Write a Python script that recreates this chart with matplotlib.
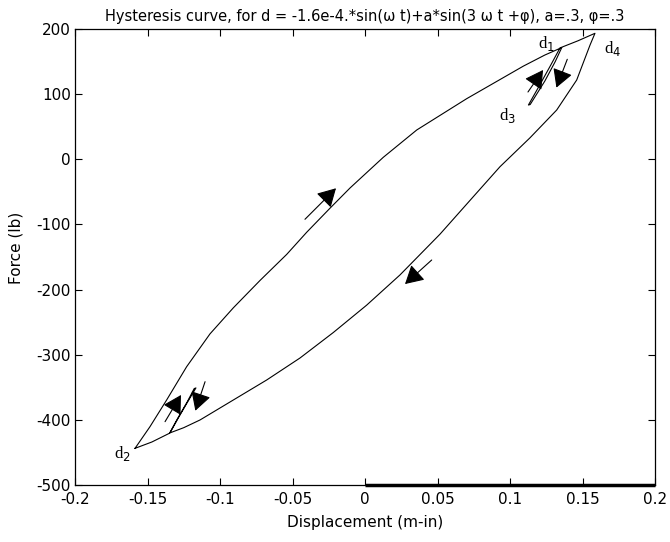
import numpy as np
import matplotlib
matplotlib.use('Agg')
import matplotlib.pyplot as plt

plt.rcParams['font.family'] = ['DejaVu Sans']
plt.rcParams['axes.unicode_minus'] = False

# loop traced clockwise: up the upper branch (with the small loop at d1/d3),
# over the tip d4, down the lower branch (small loop near d2), back to d2
upper_x = [-0.1586, -0.1483, -0.1368, -0.1230, -0.1069, -0.0908, -0.0724, -0.0540,
           -0.0402, -0.0241, -0.0103, 0.0126, 0.0357, 0.0701, 0.1092, 0.1240, 0.1357]
upper_y = [-443.7, -410.5, -369.5, -318.4, -268.0, -228.0, -186.0, -146.0,
           -112.0, -75.0, -44.0, 3.0, 45.0, 93.0, 143.0, 160.0, 171.5]

top_loop_x = [0.1312, 0.1240, 0.1139, 0.1127, 0.1200, 0.1282, 0.1345]
top_loop_y = [150.0, 120.0, 84.0, 83.3, 112.0, 145.0, 171.0]

tip_x = [0.1470, 0.1586]
tip_y = [182.0, 193.4]

lower_x = [0.1552, 0.1460, 0.1322, 0.1138, 0.0931, 0.0747, 0.0517, 0.0241,
           0.0011, -0.0219, -0.0448, -0.0678, -0.0908, -0.1138, -0.1250, -0.1345]
lower_y = [175.4, 121.7, 75.6, 33.0, -11.4, -57.4, -115.0, -177.6,
           -224.0, -266.0, -305.0, -338.8, -369.5, -400.2, -412.0, -420.0]

bottom_loop_x = [-0.1290, -0.1230, -0.1166, -0.1178, -0.1225, -0.1290, -0.1348]
bottom_loop_y = [-398.0, -375.0, -351.0, -352.0, -372.0, -397.0, -420.5]

end_x = [-0.1470, -0.1586]
end_y = [-434.0, -443.7]

# heavy stroke along the bottom edge
base_x = [0.0, 0.2]
base_y = [-500, -500]

# direction arrows: (tail, head)
arrows = [
    ((-0.0414, -92.1), (-0.0200, -44.5)),
    ((0.0460, -154.6), (0.0276, -191.5)),
    ((0.1124, 103.3), (0.1228, 137.1)),
    ((0.1395, 153.5), (0.1320, 110.0)),
    ((-0.1379, -402.8), (-0.1269, -361.8)),
    ((-0.1103, -341.4), (-0.1170, -386.0)),
]

point_labels = ['d$_1$', 'd$_2$', 'd$_3$', 'd$_4$']
label_x = [0.1248, -0.1676, 0.0986, 0.1710]
label_y = [177.0, -452.4, 66.5, 170.8]

xticks = [-0.2, -0.15, -0.1, -0.05, 0, 0.05, 0.1, 0.15, 0.2]
xtick_labels = ['-0.2', '-0.15', '-0.1', '-0.05', '0', '0.05', '0.1', '0.15', '0.2']
yticks = [-500, -400, -300, -200, -100, 0, 100, 200]

fig = plt.figure(figsize=(6.70, 5.42), dpi=100)
ax = fig.add_axes([75 / 670, 57 / 542, 580 / 670, 456 / 542])

x = upper_x + top_loop_x + tip_x + lower_x + bottom_loop_x + end_x
y = upper_y + top_loop_y + tip_y + lower_y + bottom_loop_y + end_y
ax.plot(x, y, color='black', lw=0.8)
ax.plot(base_x, base_y, color='black', lw=2.5, clip_on=False, solid_capstyle='butt')

for tail, head in arrows:
    ax.annotate('', xy=head, xytext=tail,
                arrowprops=dict(arrowstyle='-|>,head_length=0.8,head_width=0.45',
                                mutation_scale=14, color='black', lw=0.8,
                                shrinkA=0, shrinkB=0))

for lab, lx, ly in zip(point_labels, label_x, label_y):
    ax.text(lx, ly, lab, fontsize=12, family='Liberation Serif',
            ha='center', va='center')

ax.set_xlim(-0.2, 0.2)
ax.set_ylim(-500, 200)
ax.set_xticks(xticks)
ax.set_xticklabels(xtick_labels)
ax.set_yticks(yticks)
ax.tick_params(direction='in', top=True, right=True, length=5, width=0.8,
               labelsize=11)
ax.tick_params(axis='x', pad=5)
ax.tick_params(axis='y', pad=3)
for s in ax.spines.values():
    s.set_linewidth(0.9)

ax.set_title('Hysteresis curve, for d = -1.6e-4.*sin(\u03c9 t)+a*sin(3 \u03c9 t +\u03c6), a=.3, \u03c6=.3',
             fontsize=10.5, pad=6)
ax.set_xlabel('Displacement (m-in)', fontsize=11, labelpad=6)
ax.set_ylabel('Force (lb)', fontsize=11)
ax.yaxis.set_label_coords(-0.088, 0.52)

fig.savefig('out.png', dpi=100)
